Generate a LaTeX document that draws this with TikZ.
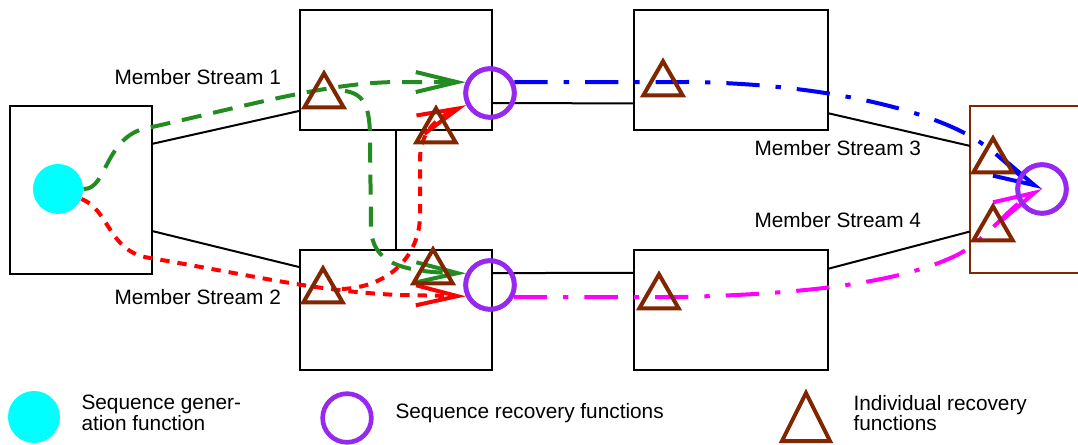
\documentclass[tikz,border=0pt]{standalone}
\usepackage{fontspec}
\setmainfont{Liberation Sans}
\usetikzlibrary{arrows.meta,shapes.geometric}

\definecolor{seqcyan}{RGB}{0,255,255}
\definecolor{recpurple}{RGB}{150,40,240}
\definecolor{irfbrown}{RGB}{128,38,0}
\definecolor{msgreen}{RGB}{34,139,34}
\definecolor{msred}{RGB}{255,0,0}
\definecolor{msblue}{RGB}{0,0,255}
\definecolor{msmagenta}{RGB}{255,0,255}

\tikzset{every picture/.style={line width=0.75pt}}
\tikzset{
  streambox/.style={draw, line width=1.5pt, inner sep=0pt, outer sep=0pt},
  link/.style={line width=1.5pt},
  genfn/.style={circle, fill=seqcyan, inner sep=0pt, minimum size=37.5pt},
  recfn/.style={circle, draw=recpurple, line width=3.5pt, inner sep=0pt, minimum size=36.5pt},
  irf/.style={regular polygon, regular polygon sides=3, draw=irfbrown, line width=3pt, inner sep=0pt, minimum size=34pt},
  barb/.style={-{Straight Barb[length=31pt,width=15pt]}},
  greenflow/.style={draw=msgreen, line width=3pt, dash pattern=on 15pt off 9pt, barb},
  redflow/.style={draw=msred, line width=3pt, dash pattern=on 7pt off 6pt, barb},
  blueflow/.style={draw=msblue, line width=3pt, dash pattern=on 25pt off 12pt on 4pt off 12pt, barb},
  magentaflow/.style={draw=msmagenta, line width=3pt, dash pattern=on 25pt off 12pt on 4pt off 12pt, barb},
  lbl/.style={anchor=base west, inner sep=0pt, font=\fontsize{15.6}{16}\selectfont},
  keylbl/.style={anchor=west, align=left, inner sep=0pt, font=\fontsize{15.6}{15.6}\selectfont}
}

\begin{document}
\begin{tikzpicture}[x=0.75pt,y=0.75pt,yscale=-1,xscale=1]

\useasboundingbox (0,0) rectangle (1078,445);

% network nodes
\node[streambox, minimum width=106.5pt, minimum height=126pt] (lbox) at (81,190) {};
\node[streambox, minimum width=144pt, minimum height=90pt] (m1box) at (396,70) {};
\node[streambox, minimum width=144pt, minimum height=90pt] (m2box) at (396,310) {};
\node[streambox, minimum width=145.5pt, minimum height=90pt] (r1box) at (731,70) {};
\node[streambox, minimum width=145.5pt, minimum height=90pt] (r2box) at (731,310) {};
\node[streambox, draw=irfbrown, minimum width=90pt, minimum height=125.25pt] (rbox) at (1030,189.5) {};

\draw[link] (lbox.33.5) -- (m1box.203);
\draw[link] (lbox.-30.6) -- (m2box.156);
\draw[link] (m1box.south) -- (m2box.north);
\draw[link] (m1box.-19.5) -- (r1box.199.3);
\draw[link] (m2box.21.1) -- (r2box.159.1);
\draw[link] (r1box.336.6) -- (rbox.144.7);
\draw[link] (r2box.23.9) -- (rbox.215.3);

\node[lbl] (ms1) at (114,85) {Member Stream 1};
\node[lbl] (ms2) at (114,305) {Member Stream 2};
\node[lbl] (ms3) at (754,156) {Member Stream 3};
\node[lbl] (ms4) at (754,228) {Member Stream 4};

\node[genfn] (seqgen) at (58,189) {};
\node[recfn] (srec1) at (490,93) {};
\node[recfn] (srec2) at (490,285) {};
\node[recfn] (srec3) at (1042,189) {};

% sequenced traffic
\coordinate (gsplit) at (345,91);
\coordinate (rsplit) at (342,289);

\draw[greenflow] (seqgen.east) .. controls (108,190) and (104,133) .. (152,127) .. controls (250,105) and (330,82) .. (400,82) -- (srec1.156);
\draw[greenflow] (gsplit) .. controls (366,94) and (370,110) .. (370,140) -- (371,228) .. controls (372,262) and (400,272) .. (srec2.154);

\draw[redflow] (seqgen.-23) .. controls (110,210) and (108,252) .. (150,258) .. controls (250,275) and (320,292) .. (400,295) -- (srec2.205);
\draw[redflow] (rsplit) .. controls (390,287) and (420,255) .. (420,215) -- (420,160) .. controls (420,132) and (436,118) .. (srec1.207);

\draw[blueflow] (srec1.24) -- (690,82) .. controls (820,84) and (920,108) .. (970,136) .. controls (1000,153) and (1018,177) .. (srec3.center);
\draw[magentaflow] (srec2.-27) -- (680,297) .. controls (810,294) and (900,282) .. (955,256) .. controls (985,242) and (1010,205) .. (srec3.center);

\node[recfn] at (srec1) {};
\node[recfn] at (srec2) {};
\node[recfn] at (srec3) {};

\node[irf] (irf1) at (324,96) {};
\node[irf] (irf2) at (436,131) {};
\node[irf] (irf3) at (323,291) {};
\node[irf] (irf4) at (433,272) {};
\node[irf] (irf5) at (663,84) {};
\node[irf] (irf6) at (659,297) {};
\node[irf] (irf7) at (993,161) {};
\node[irf] (irf8) at (993,229) {};

% key
\node[genfn, minimum size=39pt] (keygen) at (34,417) {};
\node[keylbl] (keygentxt) at (81,413) {Sequence gener-\\ation function};

\node[recfn] (keyrec) at (347,418) {};
\node[lbl] (keyrectxt) at (395,418) {Sequence recovery functions};

\draw[irfbrown, line width=3pt] (782,441) -- (806,393) -- (830,441) -- cycle;
\node[keylbl] (keyirftxt) at (853,413) {Individual recovery\\functions};

\end{tikzpicture}
\end{document}
